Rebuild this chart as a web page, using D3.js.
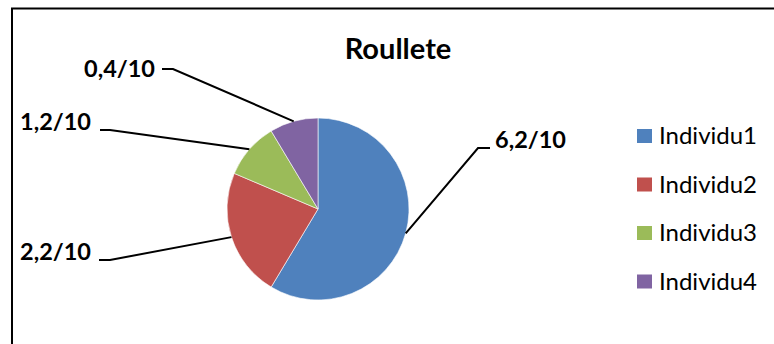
<!DOCTYPE html>
<html>
<head>
<meta charset="utf-8">
<script src="https://cdn.jsdelivr.net/npm/d3@7"></script>
<style>
  body { margin: 0; background: #fff; }
  svg { display: block; font-family: Lato, "Open Sans", sans-serif; }
</style>
</head>
<body>
<div id="chart"></div>
<script>
// data
var categories = ["Individu1", "Individu2", "Individu3", "Individu4"];
var values = [58.6, 22.8, 10.0, 8.6];
var labels = ["6,2/10", "2,2/10", "1,2/10", "0,4/10"];
var colors = ["#4F81BD", "#C0504D", "#9BBB59", "#8064A2"];

// where each label sits (elbow of the leader line and text start)
var labelPos = [
    { elbowX: 478, elbowY: 148, endX: 490, textX: 495, textY: 148 },
    { elbowX: 110, elbowY: 260, endX: 99, textX: 20, textY: 260 },
    { elbowX: 110, elbowY: 130, endX: 100, textX: 20, textY: 130 },
    { elbowX: 173, elbowY: 69, endX: 162, textX: 84, textY: 77 }
];

var width = 774, height = 344;
var cx = 318, cy = 209, radius = 91;

var svg = d3.select("#chart").append("svg")
    .attr("width", width)
    .attr("height", height);

// chart frame (only top and left edges are visible)
svg.append("path")
    .attr("d", "M12,344 L12,8.5 L774,8.5")
    .attr("fill", "none")
    .attr("stroke", "#000")
    .attr("stroke-width", 2);

svg.append("text")
    .attr("x", 398)
    .attr("y", 59)
    .attr("text-anchor", "middle")
    .attr("font-size", 29)
    .attr("font-weight", "bold")
    .text("Roullete");

var pie = d3.pie().sort(null).value(function(d) { return d; });
var arcs = pie(values);
var arc = d3.arc().innerRadius(0).outerRadius(radius);

var g = svg.append("g").attr("transform", "translate(" + cx + "," + cy + ")");

g.selectAll("path")
    .data(arcs)
    .enter()
    .append("path")
    .attr("d", arc)
    .attr("fill", function(d, i) { return colors[i]; })
    .attr("stroke", "#fff")
    .attr("stroke-width", 0.6);

// leader lines from the slice edge at its mid angle
svg.selectAll("polyline.leader")
    .data(arcs)
    .enter()
    .append("polyline")
    .attr("class", "leader")
    .attr("points", function(d, i) {
        var a = (d.startAngle + d.endAngle) / 2;
        var px = cx + radius * Math.sin(a);
        var py = cy - radius * Math.cos(a);
        var p = labelPos[i];
        return [px, py, p.elbowX, p.elbowY, p.endX, p.elbowY].join(" ");
    })
    .attr("fill", "none")
    .attr("stroke", "#000")
    .attr("stroke-width", 2);

svg.selectAll("text.lbl")
    .data(labels)
    .enter()
    .append("text")
    .attr("class", "lbl")
    .attr("x", function(d, i) { return labelPos[i].textX; })
    .attr("y", function(d, i) { return labelPos[i].textY; })
    .attr("font-size", 23.5)
    .attr("font-weight", "bold")
    .text(function(d) { return d; });

// legend
var legend = svg.selectAll("g.legend")
    .data(categories)
    .enter()
    .append("g")
    .attr("class", "legend")
    .attr("transform", function(d, i) { return "translate(637," + (129 + i * 48.5) + ")"; });

legend.append("rect")
    .attr("width", 15)
    .attr("height", 14)
    .attr("fill", function(d, i) { return colors[i]; });

legend.append("text")
    .attr("x", 22)
    .attr("y", 15)
    .attr("font-size", 24)
    .text(function(d) { return d; });
</script>
</body>
</html>
